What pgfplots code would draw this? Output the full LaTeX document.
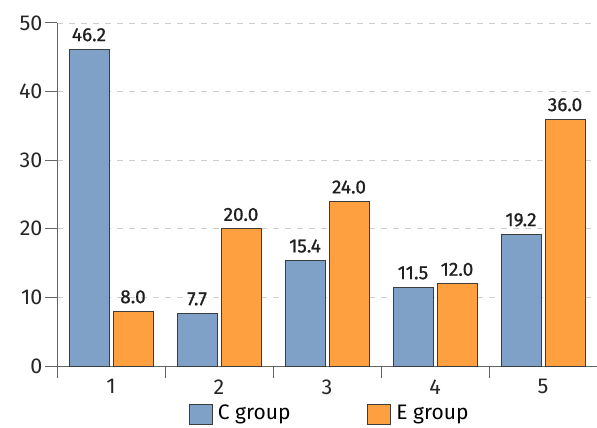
\documentclass[border=0pt]{standalone}
\usepackage{fontspec}
\setmainfont{Fira Sans}
\newfontfamily\labelfont{Fira Sans}[FakeBold=0.8]
\usepackage{pgfplots}
\pgfplotsset{compat=1.18}

\definecolor{cblue}{RGB}{127,161,199}
\definecolor{eorange}{RGB}{255,160,64}
\definecolor{baredge}{RGB}{60,60,60}
\definecolor{axisgray}{RGB}{100,100,100}
\definecolor{gridgray}{RGB}{205,205,205}

\begin{document}
\begin{tikzpicture}
\begin{axis}[
  scale only axis,
  width=540pt, height=343pt,
  xmin=0.5, xmax=5.5,
  ymin=0, ymax=50,
  ytick={0,10,20,30,40,50},
  xtick={1,2,3,4,5},
  minor xtick={0.5,1.5,2.5,3.5,4.5},
  axis x line=bottom, axis y line=left,
  axis line style={-, draw=axisgray, line width=1pt},
  tick align=outside,
  major tick length=12pt, minor tick length=12pt,
  x tick style={draw=none},
  minor x tick style={draw=axisgray, line width=1pt},
  y tick style={draw=axisgray, line width=1pt},
  ymajorgrids,
  y grid style={gridgray, line width=0.8pt, dash pattern=on 6pt off 6pt},
  /pgf/number format/assume math mode=true,
  tick label style={font=\fontsize{21.5}{23}\selectfont, text=black!85},
  xticklabel style={yshift=2pt},
  yticklabel style={xshift=1pt},
  ybar=4pt, bar width=40pt,
  nodes near coords,
  nodes near coords style={font=\labelfont\fontsize{19}{21}\selectfont, text=black!88,
    yshift=4pt,
    /pgf/number format/.cd, fixed, fixed zerofill, precision=1,
    assume math mode=true},
  legend columns=2,
  legend style={at={(0.508,-0.104)}, anchor=north, draw=none, fill=none,
    font=\fontsize{21}{23}\selectfont, inner sep=1pt,
    nodes={inner xsep=5.5pt},
    /tikz/every even column/.append style={column sep=71pt}},
  legend image code/.code={\draw[#1, line width=0.8pt] (0pt,-11pt) rectangle (23pt,9pt);},
  clip=false,
]
\addplot[draw=baredge, line width=0.8pt, fill=cblue]
  coordinates {(1,46.2) (2,7.7) (3,15.4) (4,11.5) (5,19.2)};
\addplot[draw=baredge, line width=0.8pt, fill=eorange]
  coordinates {(1,8.0) (2,20.0) (3,24.0) (4,12.0) (5,36.0)};
\legend{C group, E group}
\end{axis}
\pgfresetboundingbox
\path ([shift={(-57pt,-61pt)}]current axis.south west) rectangle ([shift={(0pt,23pt)}]current axis.north east);
\end{tikzpicture}
\end{document}
